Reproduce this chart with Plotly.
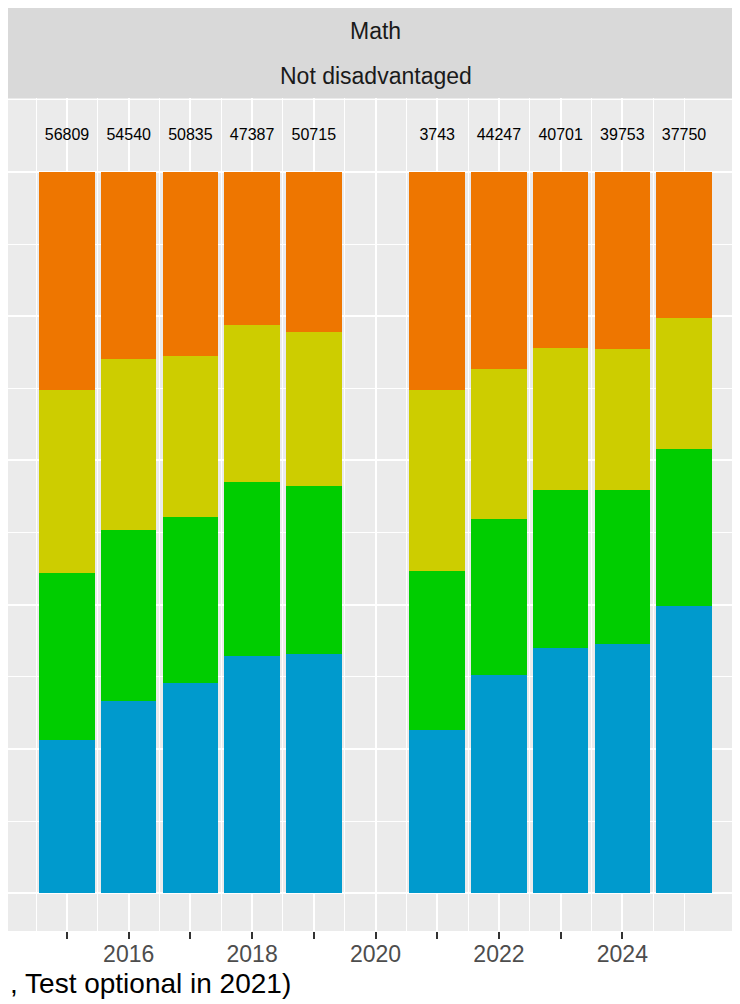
import plotly.graph_objects as go

# data (shares of each year's tested students, stacked to 1)
years = [2015, 2016, 2017, 2018, 2019, 2021, 2022, 2023, 2024, 2025]
counts = [56809, 54540, 50835, 47387, 50715, 3743, 44247, 40701, 39753, 37750]

level_1 = [0.213, 0.266, 0.291, 0.329, 0.332, 0.226, 0.302, 0.340, 0.346, 0.398]
level_2 = [0.231, 0.237, 0.230, 0.241, 0.232, 0.221, 0.217, 0.219, 0.213, 0.218]
level_3 = [0.253, 0.238, 0.224, 0.218, 0.214, 0.250, 0.208, 0.197, 0.196, 0.182]
level_4 = [0.303, 0.259, 0.255, 0.212, 0.222, 0.303, 0.273, 0.244, 0.245, 0.202]

series = [
    ("Level 1", level_1, "#009ACD"),
    ("Level 2", level_2, "#00CD00"),
    ("Level 3", level_3, "#CDCD00"),
    ("Level 4", level_4, "#EE7600"),
]

tick_years = list(range(2015, 2025))
tick_text = [str(y) if y % 2 == 0 else "" for y in tick_years]
minor_x = [2014 + 0.5 * i for i in range(0, 23)]
minor_x = [v for v in minor_x if v not in tick_years]

strip_top = ["Math"]
strip_bottom = ["Not disadvantaged"]
caption = ", Test optional in 2021)"

FONT = "Liberation Sans, Arial, sans-serif"

fig = go.Figure()
for name, vals, color in series:
    fig.add_trace(go.Bar(
        x=years, y=vals, name=name, width=0.9,
        marker=dict(color=color, line=dict(width=0)),
    ))

fig.add_trace(go.Scatter(
    x=years, y=[1.05] * len(years), mode="text",
    text=[str(c) for c in counts],
    textposition="middle center",
    textfont=dict(family=FONT, size=16, color="black"),
    showlegend=False, hoverinfo="skip",
))

# the page body adds an 8px offset, so figure pixels = screen pixels - 8
OFF = 8
W, H = 732, 996
L, T, B = 0, 98 - OFF, 931 - OFF
ph = B - T


def py(screen_y):
    return (B - (screen_y - OFF)) / ph


def px_(screen_x):
    return (screen_x - OFF - L) / (W - L)


fig.update_layout(
    width=W, height=H,
    barmode="stack",
    bargap=0,
    showlegend=False,
    paper_bgcolor="white",
    plot_bgcolor="#EBEBEB",
    margin=dict(l=L, r=0, t=T, b=H - B, pad=0),
    font=dict(family=FONT),
    xaxis=dict(
        range=[2014.044, 2025.907],
        tickvals=tick_years, ticktext=tick_text,
        ticks="outside", ticklen=7, tickwidth=1.6, tickcolor="#333333",
        tickfont=dict(family=FONT, size=23, color="#4D4D4D"),
        ticklabelstandoff=-5,
        showgrid=True, gridcolor="white", gridwidth=1.8,
        zeroline=False, showline=False,
        minor=dict(tickvals=minor_x, showgrid=True, gridcolor="white",
                   gridwidth=0.9, ticks=""),
    ),
    yaxis=dict(
        range=[-0.0525, 1.1025],
        tickvals=[0, 0.2, 0.4, 0.6, 0.8, 1.0],
        showticklabels=False, ticks="",
        showgrid=True, gridcolor="white", gridwidth=1.8,
        zeroline=False, showline=False,
        minor=dict(tickvals=[0.1, 0.3, 0.5, 0.7, 0.9, 1.1], showgrid=True,
                   gridcolor="white", gridwidth=0.9, ticks=""),
    ),
)

# facet strip
fig.add_shape(type="rect", xref="paper", yref="paper",
              x0=0, x1=1.02, y0=1.0, y1=py(7),
              fillcolor="#D9D9D9", line=dict(width=0), layer="below")
fig.add_annotation(text=strip_top[0], xref="paper", yref="paper",
                   x=px_(375.5), y=py(31), xanchor="center", yanchor="middle",
                   showarrow=False,
                   font=dict(family=FONT, size=23, color="#1A1A1A"))
fig.add_annotation(text=strip_bottom[0], xref="paper", yref="paper",
                   x=px_(375.5), y=py(76), xanchor="center", yanchor="middle",
                   showarrow=False,
                   font=dict(family=FONT, size=23, color="#1A1A1A"))

# axis title (its start is cut off in the original)
fig.add_annotation(text=caption, xref="paper", yref="paper",
                   x=0, y=py(983), xanchor="left", yanchor="middle",
                   showarrow=False,
                   font=dict(family=FONT, size=28, color="black"))

fig.write_html("out.html")
